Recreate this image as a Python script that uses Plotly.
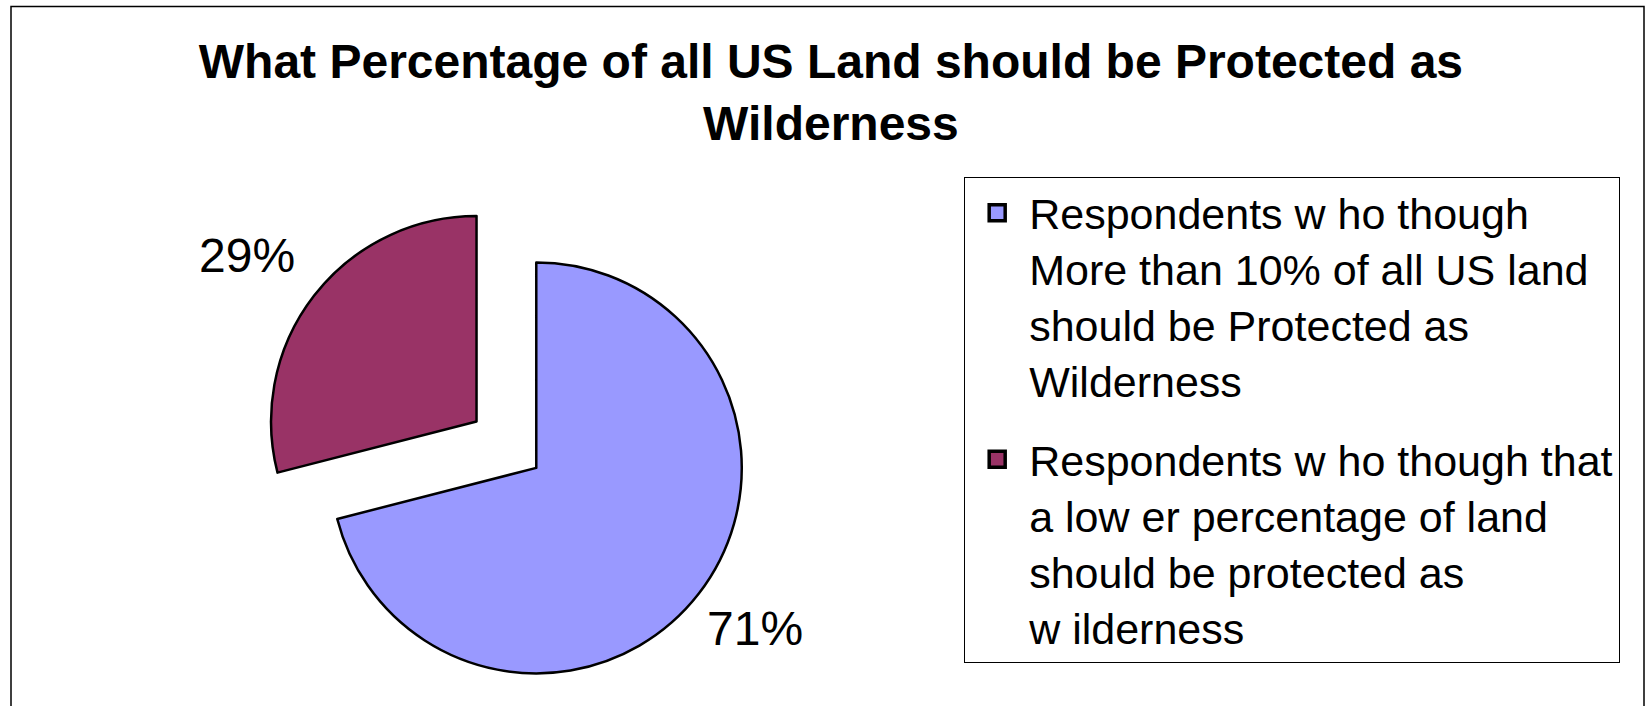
import plotly.graph_objects as go

# ---- data ----
labels = [
    "Respondents w ho though<br>More than 10% of all US land<br>should be Protected as<br>Wilderness",
    "Respondents w ho though that<br>a low er percentage of land<br>should be protected as<br>w ilderness",
]
values = [71, 29]
colors = ["#9999FF", "#993366"]
pulls = [0.184, 0.184]
# where each percentage label sits (paper fractions)
label_x = [0.45841, 0.14967]
label_y = [0.11048, 0.63810]

title_text = "What Percentage of all US Land should be Protected as<br>Wilderness"

W, H = 1647, 706
FONT = "Liberation Sans, Arial, sans-serif"

total = sum(values)
pct_text = [f"{v / total * 100:.0f}%" for v in values]

fig = go.Figure()
fig.add_trace(go.Pie(
    labels=labels,
    values=values,
    sort=False,
    direction="clockwise",
    rotation=0,
    pull=pulls,
    marker=dict(colors=colors, line=dict(color="black", width=2.5)),
    textinfo="none",
    domain=dict(x=[0.15975, 0.45519], y=[0.0255, 0.7147]),
    hoverinfo="label+percent",
    showlegend=False,
))

# legend entries (one group per category so the gap between them can be set)
for i, (lab, col) in enumerate(zip(labels, colors)):
    fig.add_trace(go.Scatter(
        x=[None], y=[None], mode="markers", name=lab,
        legendgroup=f"g{i}",
        marker=dict(symbol="square", size=16, color=col,
                    line=dict(color="black", width=3.5)),
        hoverinfo="skip",
    ))

annotations = [
    dict(text=t, x=x, y=y, xref="paper", yref="paper",
         xanchor="center", yanchor="middle", showarrow=False,
         font=dict(family=FONT, size=48, color="black"))
    for t, x, y in zip(pct_text, label_x, label_y)
]

fig.update_layout(
    width=W, height=H, autosize=False,
    margin=dict(l=0, r=0, t=0, b=0, autoexpand=False),
    paper_bgcolor="white", plot_bgcolor="white",
    font=dict(family=FONT, color="black"),
    xaxis=dict(visible=False), yaxis=dict(visible=False),
    title=dict(
        text=title_text,
        font=dict(family=FONT, size=48, color="black", weight="bold"),
        x=0.5045, xanchor="center",
        y=0.8902, yanchor="middle",
        xref="container", yref="container",
    ),
    legend=dict(
        x=0.5853, y=0.7493, xanchor="left", yanchor="top",
        bordercolor="black", borderwidth=1.2, bgcolor="white",
        font=dict(family=FONT, size=43, color="black"),
        itemwidth=54, itemsizing="trace", valign="top",
        tracegroupgap=20, traceorder="grouped",
    ),
    annotations=annotations,
    shapes=[dict(
        type="rect", xref="paper", yref="paper",
        x0=11 / W, x1=1644 / W, y0=-0.2, y1=1 - 6.5 / H,
        line=dict(color="black", width=1.5), fillcolor="rgba(0,0,0,0)",
        layer="below",
    )],
)

fig.write_html(
    "out.html",
    config={"displayModeBar": False},
    post_script="document.body.style.margin='0';",
)
